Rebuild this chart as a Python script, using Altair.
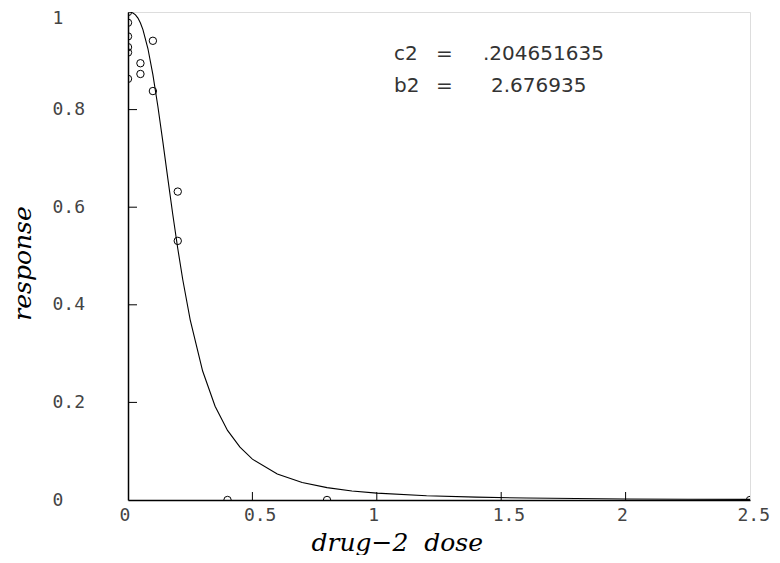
import altair as alt
import pandas as pd

# observed data points
pt_x = [0, 0, 0, 0, 0, 0, 0.05, 0.05, 0.1, 0.1, 0.2, 0.2, 0.4, 0.8, 2.5]
pt_y = [1.0, 0.978, 0.95, 0.928, 0.917, 0.863, 0.895, 0.873, 0.941, 0.838, 0.632, 0.531, 0.0, 0.0, 0.0]

# fitted curve
cv_x = [0, 0.01, 0.02, 0.03, 0.04, 0.05, 0.06, 0.08, 0.10, 0.12, 0.14, 0.16, 0.18, 0.20,
        0.22, 0.25, 0.30, 0.35, 0.40, 0.45, 0.50, 0.6, 0.7, 0.8, 0.9, 1.0, 1.2, 1.4, 1.6,
        1.8, 2.0, 2.25, 2.5]
cv_y = [1.0, 0.9997, 0.998, 0.9942, 0.9875, 0.9775, 0.9639, 0.9252, 0.8718, 0.8068, 0.7343,
        0.6590, 0.5851, 0.5154, 0.4518, 0.3692, 0.2643, 0.1921, 0.1426, 0.1082, 0.0838,
        0.0532, 0.0358, 0.0253, 0.0186, 0.0141, 0.0087, 0.0058, 0.0040, 0.0030, 0.0022,
        0.0016, 0.0012]

x_ticks = [0, 0.5, 1, 1.5, 2, 2.5]
y_ticks = [0, 0.2, 0.4, 0.6, 0.8, 1]
x_inner_ticks = [0.5, 1, 1.5, 2]
y_inner_ticks = [0.2, 0.4, 0.6, 0.8]

ann_names = ["c2", "b2"]
ann_values = [".204651635", "2.676935"]

pts = pd.DataFrame({"x": pt_x, "y": pt_y})
cv = pd.DataFrame({"x": cv_x, "y": cv_y})

LABEL_FONT = "DejaVu Sans Mono"
ANN_FONT = "DejaVu Sans"
TITLE_FONT = "DejaVu Serif"

xscale = alt.Scale(domain=[0, 2.5], nice=False, zero=False)
yscale = alt.Scale(domain=[0, 1], nice=False, zero=False)

xaxis = alt.Axis(values=x_ticks, format="~g", grid=False, ticks=False,
                 domainColor="black", domainWidth=1.5,
                 labelFont=LABEL_FONT, labelFontSize=18, labelColor="#444",
                 labelAlign="left", labelBaseline="middle",
                 labelOffset={"condition": {"test": "datum.value == 2.5", "value": -13}, "value": -9},
                 labelPadding=15, labelFlush=False,
                 title="drug\u22122\u00a0\u00a0dose", titleFont=TITLE_FONT, titleFontSize=25,
                 titleFontStyle="italic", titleFontWeight="normal", titleColor="black",
                 titleAnchor="start", titleX=183, titleY=50, titleAlign="left",
                 titleBaseline="alphabetic")
yaxis = alt.Axis(values=y_ticks, format="~g", grid=False, ticks=False,
                 domainColor="black", domainWidth=1.5,
                 labelFont=LABEL_FONT, labelFontSize=18, labelColor="#444",
                 labelAlign="left", labelBaseline="middle", labelPadding=76,
                 labelOffset={"condition": {"test": "datum.value == 1", "value": 6}, "value": 0},
                 labelFlush=False,
                 title="response", titleFont=TITLE_FONT, titleFontSize=25,
                 titleFontStyle="italic", titleFontWeight="normal", titleColor="black",
                 titleAngle=270, titleX=-106, titleY=251, titleAlign="center",
                 titleBaseline="middle")

curve = alt.Chart(cv).mark_line(color="black", strokeWidth=1.1, clip=True).encode(
    x=alt.X("x:Q", scale=xscale, axis=xaxis),
    y=alt.Y("y:Q", scale=yscale, axis=yaxis),
)

points = alt.Chart(pts).mark_point(shape="circle", filled=False, color="black",
                                   size=55, strokeWidth=1, opacity=1, clip=True).encode(
    x=alt.X("x:Q", scale=xscale),
    y=alt.Y("y:Q", scale=yscale),
)

xt = alt.Chart(pd.DataFrame({"v": x_inner_ticks})).mark_rule(color="black", strokeWidth=1).encode(
    x=alt.X("v:Q", scale=xscale),
    y=alt.value(488), y2=alt.value(480),
)
yt = alt.Chart(pd.DataFrame({"v": y_inner_ticks})).mark_rule(color="black", strokeWidth=1).encode(
    y=alt.Y("v:Q", scale=yscale),
    x=alt.value(0), x2=alt.value(9),
)

def txt(s, xpx, ypx):
    return alt.Chart(pd.DataFrame({"t": [s]})).mark_text(
        font=ANN_FONT, fontSize=20, color="#333", align="left", baseline="alphabetic"
    ).encode(text="t:N", x=alt.value(xpx), y=alt.value(ypx))

ann = [
    txt(ann_names[0], 266, 48), txt("=", 308, 48), txt(ann_values[0], 355, 48),
    txt(ann_names[1], 266, 80), txt("=", 308, 80), txt(ann_values[1], 363, 80),
]

chart = alt.layer(curve, points, xt, yt, *ann).properties(
    width=622, height=488,
    autosize=alt.AutoSizeParams(type="none"),
    padding={"left": 120, "top": 4, "right": 22, "bottom": 55},
).configure_view(stroke="black", strokeWidth=1.2).configure(background="white")

chart.save("out.html", embed_options={"renderer": "svg", "actions": False})
